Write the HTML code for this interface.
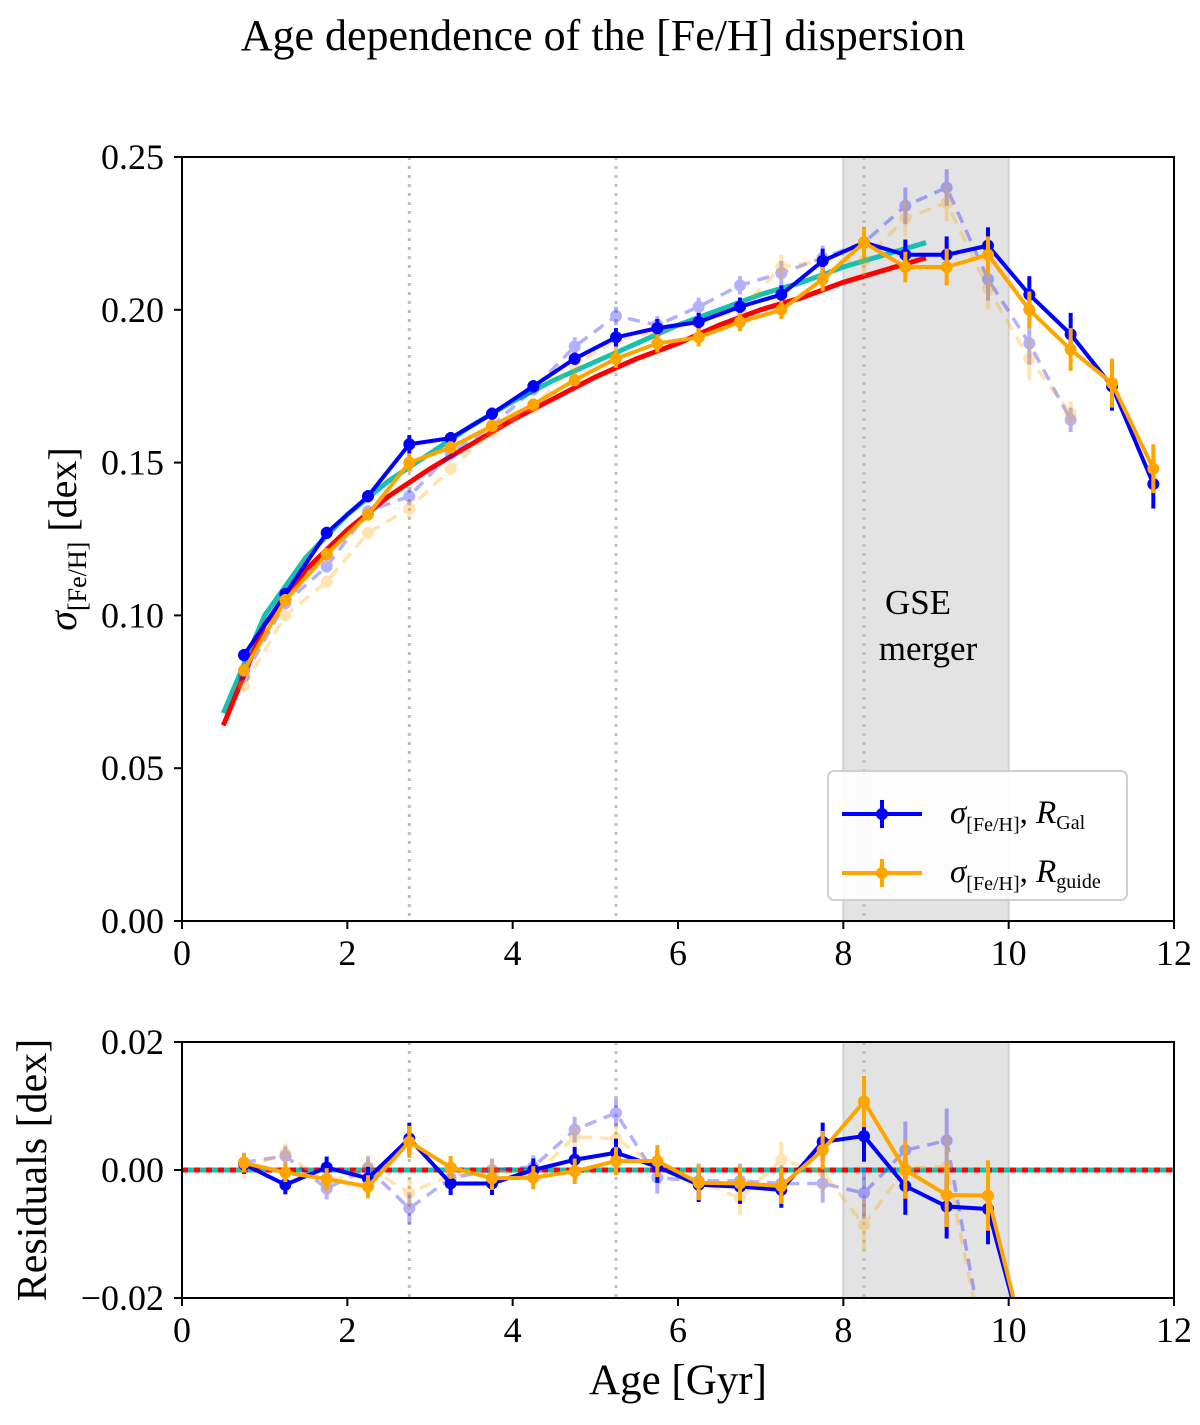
<!DOCTYPE html>
<html><head><meta charset="utf-8"><style>
body{margin:0;background:#fff}
svg text{font-family:"Liberation Serif","DejaVu Serif",serif;fill:#000}
</style></head><body>
<svg id="chart" width="1200" height="1420" viewBox="0 0 1200 1420" xmlns="http://www.w3.org/2000/svg">
<text x="603" y="50" font-size="44" text-anchor="middle">Age dependence of the [Fe/H] dispersion</text>
<g id="top"></g>
<g id="bot"></g>
</svg>
<script>
const ages = [0.75,1.25,1.75,2.25,2.75,3.25,3.75,4.25,4.75,5.25,5.75,6.25,6.75,7.25,7.75,8.25,8.75,9.25,9.75,10.25,10.75,11.25,11.75];
const blueVals = [0.087,0.107,0.127,0.139,0.156,0.158,0.166,0.175,0.184,0.191,0.194,0.196,0.201,0.205,0.216,0.222,0.218,0.218,0.221,0.205,0.192,0.175,0.143];
const blueErr = [0.002,0.002,0.002,0.002,0.003,0.002,0.002,0.002,0.002,0.003,0.003,0.003,0.003,0.003,0.004,0.005,0.005,0.006,0.006,0.006,0.007,0.008,0.008];
const orangeVals = [0.082,0.105,0.120,0.133,0.150,0.155,0.162,0.169,0.177,0.184,0.189,0.191,0.196,0.200,0.210,0.222,0.214,0.214,0.218,0.200,0.187,0.176,0.148];
const orangeErr = [0.002,0.002,0.002,0.002,0.003,0.002,0.002,0.002,0.002,0.003,0.003,0.003,0.003,0.003,0.004,0.005,0.005,0.006,0.006,0.006,0.007,0.008,0.008];
const blueDashVals = [0.080,0.104,0.116,0.134,0.139,0.153,0.162,0.174,0.188,0.198,0.195,0.201,0.208,0.212,0.217,0.222,0.234,0.240,0.210,0.189,0.164];
const orangeDashVals = [0.077,0.100,0.111,0.127,0.135,0.148,0.160,0.168,0.182,0.190,0.193,0.196,0.200,0.214,0.216,0.216,0.230,0.235,0.207,0.184,0.166];
const dashErr = [0.002,0.002,0.002,0.002,0.003,0.002,0.002,0.002,0.003,0.003,0.003,0.003,0.003,0.004,0.004,0.005,0.006,0.006,0.007,0.007,0.004];
const fitAges = [0.5,1,1.5,2,2.5,3,3.5,4,4.5,5,5.5,6,6.5,7,7.5,8,8.5,9];
const redFit = [0.064,0.097,0.115,0.128,0.139,0.148,0.156,0.164,0.171,0.178,0.184,0.189,0.195,0.200,0.204,0.209,0.213,0.217];
const cyanFit = [0.068,0.100,0.119,0.133,0.144,0.153,0.162,0.170,0.177,0.183,0.189,0.195,0.200,0.205,0.209,0.214,0.218,0.222];
const resBlue = [0.0009,-0.0023,0.0004,-0.0013,0.0049,-0.0021,-0.0021,0.0000,0.0016,0.0027,0.0005,-0.0023,-0.0026,-0.0031,0.0044,0.0053,-0.0025,-0.0057,-0.0061,-0.030];
const resOrange = [0.0011,-0.0004,-0.0014,-0.0026,0.0044,0.0004,-0.0013,-0.0012,-0.0002,0.0014,0.0014,-0.0020,-0.0021,-0.0025,0.0031,0.0107,0.0000,-0.0039,-0.0040,-0.030];
const resBlueDash = [0.0012,0.0022,-0.0029,0.0003,-0.0060,-0.0013,0.0000,0.0005,0.0063,0.0089,-0.0012,-0.0017,-0.0017,-0.0021,-0.0021,-0.0036,0.0031,0.0046,-0.031];
const resOrangeDash = [0.0003,0.0026,-0.0021,0.0005,-0.0036,-0.0008,0.0000,-0.0010,0.0052,0.0049,0.0005,-0.0017,-0.0044,0.0016,-0.0003,-0.0086,0.0003,0.0005,-0.031];
const resErr = [0.0015,0.0015,0.0017,0.0018,0.0025,0.0018,0.0018,0.0018,0.0020,0.0022,0.0025,0.0027,0.0027,0.0028,0.0030,0.0040,0.0045,0.0050,0.0055,0.006];
const xTicks = [0,2,4,6,8,10,12];
const yTicksTop = [0,0.05,0.10,0.15,0.20,0.25];
const yTicksBot = [-0.02,0,0.02];
const vLines = [2.75,5.25,8.25];

const NS='http://www.w3.org/2000/svg';
function mk(parent,tag,attrs){const e=document.createElementNS(NS,tag);for(const k in attrs)e.setAttribute(k,attrs[k]);parent.appendChild(e);return e;}
const X0=182,X1=1174;
const sx=v=>X0+(v/12)*(X1-X0);

function panel(g,T,B,ymin,ymax,clipId){
  const sy=v=>B-(v-ymin)/(ymax-ymin)*(B-T);
  const defs=mk(g,'defs',{});
  const cp=mk(defs,'clipPath',{id:clipId});
  mk(cp,'rect',{x:X0,y:T,width:X1-X0,height:B-T});
  const span=mk(g,'rect',{x:sx(8),y:T,width:sx(10)-sx(8),height:B-T,fill:'#e3e3e3',stroke:'#d0d0d0','stroke-width':2});
  
  
  vLines.forEach(v=>{
    const l=mk(g,'line',{x1:sx(v),x2:sx(v),y1:T,y2:B,stroke:'#bdbdbd','stroke-width':3,'stroke-dasharray':'3,6'});
    
    
  });
  return sy;
}
function frame(g,T,B,sy,yt,fmt){
  const f=mk(g,'rect',{x:X0,y:T,width:X1-X0,height:B-T,fill:'none',stroke:'#000','stroke-width':2});
  
  
  xTicks.forEach(t=>{
    mk(g,'line',{x1:sx(t),x2:sx(t),y1:B,y2:B+8,stroke:'#000','stroke-width':2});
    const tx=mk(g,'text',{x:sx(t),y:B+44,'font-size':36,'text-anchor':'middle'});
    tx.textContent=t;
    
    
  });
  yt.forEach(t=>{
    mk(g,'line',{x1:X0-8,x2:X0,y1:sy(t),y2:sy(t),stroke:'#000','stroke-width':2});
    const tx=mk(g,'text',{x:X0-18,y:sy(t)+12,'font-size':36,'text-anchor':'end'});
    tx.textContent=fmt(t);
    
    
  });
}
function series(g,xs,ys,errs,color,opts){
  const sy=opts.sy;
  const sg=mk(g,'g',{'clip-path':'url(#'+opts.clip+')',opacity:opts.op||1});
  
  
  const pts=ys.map((v,i)=>sx(xs[i])+','+sy(v)).join(' ');
  mk(sg,'polyline',{points:pts,fill:'none',stroke:color,'stroke-width':opts.w||4,'stroke-dasharray':opts.dash||'none','stroke-linejoin':'round'});
  ys.forEach((v,i)=>{
    if(errs){
      const e=mk(sg,'line',{x1:sx(xs[i]),x2:sx(xs[i]),y1:sy(v-errs[i]),y2:sy(v+errs[i]),stroke:color,'stroke-width':4});
      
      
    }
    const c=mk(sg,'circle',{cx:sx(xs[i]),cy:sy(v),r:opts.r||6,fill:color});
    
    
  });
}
function fitLine(g,vals,color,sy,clip,name){
  const pts=vals.map((v,i)=>sx(fitAges[i])+','+sy(v)).join(' ');
  const p=mk(g,'polyline',{points:pts,fill:'none',stroke:color,'stroke-width':5,'clip-path':'url(#'+clip+')'});
  
  
}

// TOP
const gt=document.getElementById('top');
const syT=panel(gt,157,921,0,0.25,'clipTop');
fitLine(gt,cyanFit,'#17c0b0',syT,'clipTop','cyan-fit-curve');
fitLine(gt,redFit,'#ff0000',syT,'clipTop','red-fit-curve');
series(gt,ages,blueDashVals,dashErr,'#0000ff',{sy:syT,clip:'clipTop',op:0.3,dash:'12,8',w:3.5,name:'blue-dashed-series'});
series(gt,ages,orangeDashVals,dashErr,'#ffa500',{sy:syT,clip:'clipTop',op:0.3,dash:'12,8',w:3.5,name:'orange-dashed-series'});
series(gt,ages,blueVals,blueErr,'#0000ff',{sy:syT,clip:'clipTop',name:'blue-rgal-series'});
series(gt,ages,orangeVals,orangeErr,'#ffa500',{sy:syT,clip:'clipTop',name:'orange-rguide-series'});
frame(gt,157,921,syT,yTicksTop,t=>t.toFixed(2));
const l1=mk(gt,'text',{x:918,y:614,'font-size':35,'text-anchor':'middle'});l1.textContent='GSE';


const l2=mk(gt,'text',{x:928,y:660,'font-size':35,'text-anchor':'middle'});l2.textContent='merger';


const yl=mk(gt,'text',{transform:'translate(76,539) rotate(-90)','font-size':40,'text-anchor':'middle'});
yl.innerHTML='<tspan font-style="italic">σ</tspan><tspan font-size="26" dy="10">[Fe/H]</tspan><tspan dy="-10"> [dex]</tspan>';


const lg=mk(gt,'g',{});


mk(lg,'rect',{x:828,y:771,width:299,height:129,rx:6,fill:'#fff',stroke:'#ccc','stroke-width':2,opacity:0.9});
[['#0000ff',814,'Gal'],['#ffa500',873,'guide']].forEach(([c,y,s])=>{
  const e=mk(lg,'g',{});
  
  
  mk(e,'line',{x1:842,x2:922,y1:y,y2:y,stroke:c,'stroke-width':4});
  mk(e,'line',{x1:882,x2:882,y1:y-14,y2:y+14,stroke:c,'stroke-width':4});
  mk(e,'circle',{cx:882,cy:y,r:6,fill:c});
  const t=mk(e,'text',{x:950,y:y+9,'font-size':33});
  t.innerHTML='<tspan font-style="italic">σ</tspan><tspan font-size="20" dy="8">[Fe/H]</tspan><tspan dy="-8">, </tspan><tspan font-style="italic">R</tspan><tspan font-size="20" dy="6">'+s+'</tspan>';
});

// BOTTOM
const gb=document.getElementById('bot');
const syB=panel(gb,1042,1298,-0.02,0.02,'clipBot');
const z1=mk(gb,'line',{x1:X0,x2:X1,y1:syB(0),y2:syB(0),stroke:'#17c0b0','stroke-width':5});


const z2=mk(gb,'line',{x1:X0,x2:X1,y1:syB(0),y2:syB(0),stroke:'#ff0000','stroke-width':5,'stroke-dasharray':'6,6'});


const ra=ages.slice(0,20);
series(gb,ages,resBlueDash,resErr,'#0000ff',{sy:syB,clip:'clipBot',op:0.3,dash:'12,8',w:3.5,name:'residual-blue-dashed'});
series(gb,ages,resOrangeDash,resErr,'#ffa500',{sy:syB,clip:'clipBot',op:0.3,dash:'12,8',w:3.5,name:'residual-orange-dashed'});
series(gb,ra,resBlue,resErr,'#0000ff',{sy:syB,clip:'clipBot',name:'residual-blue'});
series(gb,ra,resOrange,resErr,'#ffa500',{sy:syB,clip:'clipBot',name:'residual-orange'});
frame(gb,1042,1298,syB,yTicksBot,t=>t===0?'0.00':(t<0?'−':'')+Math.abs(t).toFixed(2));
const ry=mk(gb,'text',{transform:'translate(46,1170) rotate(-90)','font-size':42,'text-anchor':'middle'});
ry.textContent='Residuals [dex]';


const xl=mk(gb,'text',{x:678,y:1394,'font-size':43,'text-anchor':'middle'});
xl.textContent='Age [Gyr]';


</script>
</body></html>
